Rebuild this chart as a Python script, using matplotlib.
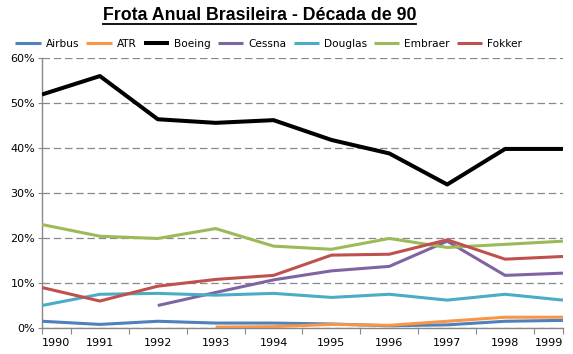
import matplotlib
matplotlib.use("Agg")
import matplotlib.pyplot as plt
from matplotlib.lines import Line2D
from matplotlib.ticker import FixedLocator, PercentFormatter

anos = ['1990', '1991', '1992', '1993', '1994', '1995', '1996', '1997', '1998', '1999']

# participacao de cada fabricante na frota (%), None = sem dado
airbus = [1.5, 0.8, 1.5, 1.1, 1.1, 0.9, 0.5, 0.7, 1.5, 1.7]
atr = [None, None, None, 0.2, 0.3, 0.8, 0.6, 1.5, 2.4, 2.4]
boeing = [51.9, 56.0, 46.4, 45.6, 46.2, 41.8, 38.8, 31.9, 39.8, 39.8]
cessna = [None, None, 5.0, 7.9, 10.7, 12.7, 13.7, 19.3, 11.7, 12.2]
douglas = [5.0, 7.5, 7.7, 7.3, 7.7, 6.8, 7.5, 6.2, 7.5, 6.2]
embraer = [23.0, 20.4, 19.9, 22.1, 18.2, 17.5, 19.9, 17.9, 18.6, 19.3]
fokker = [9.0, 6.0, 9.3, 10.8, 11.7, 16.2, 16.4, 19.6, 15.3, 15.9]

series = [
    ('Airbus', airbus, '#4F81BD'),
    ('ATR', atr, '#F79646'),
    ('Boeing', boeing, '#000000'),
    ('Cessna', cessna, '#8064A2'),
    ('Douglas', douglas, '#4BACC6'),
    ('Embraer', embraer, '#9BBB59'),
    ('Fokker', fokker, '#C0504D'),
]

plt.rcParams['font.family'] = ['DejaVu Sans']

fig = plt.figure(figsize=(5.73, 3.54), dpi=100)
ax = fig.add_axes([0.0733, 0.0734, 0.9092, 0.7626])

x = list(range(len(anos)))
for nome, valores, cor in series:
    ys = [float('nan') if v is None else v for v in valores]
    lw = 2.9 if nome == 'Boeing' else 2.2
    ax.plot(x, ys, color=cor, lw=lw, label=nome, solid_capstyle='butt', zorder=3)

ax.set_xlim(0, len(anos) - 1)
ax.set_ylim(0, 60)
ax.yaxis.set_major_locator(FixedLocator([0, 10, 20, 30, 40, 50, 60]))
ax.yaxis.set_major_formatter(PercentFormatter(decimals=0))
ax.grid(axis='y', color='#888888', linestyle=(0, (6, 3)), lw=0.9)
ax.set_axisbelow(True)

for s in ['top', 'right']:
    ax.spines[s].set_visible(False)
for s in ['left', 'bottom']:
    ax.spines[s].set_color('#888888')
    ax.spines[s].set_linewidth(1.0)

# marcas entre as categorias, rotulos nas categorias
fronteiras = [0] + [i + 0.5 for i in range(len(anos) - 1)] + [len(anos) - 1]
ax.set_xticks(fronteiras)
ax.set_xticklabels([])
ax.tick_params(axis='x', length=4, color='#888888')
ax.tick_params(axis='y', length=3, color='#888888', labelsize=8, pad=2)
for i, ano in enumerate(anos):
    ha = 'center'
    if i == 0:
        ha = 'left'
    elif i == len(anos) - 1:
        ha = 'right'
    ax.text(i, -2.3, ano, ha=ha, va='top', fontsize=8, transform=ax.transData)

fig.legend(loc='center', bbox_to_anchor=(0.469, 0.877), ncol=7, frameon=False,
           fontsize=7.6, handlelength=2.4, handletextpad=0.45, columnspacing=0.7)

titulo = fig.text(0.453, 0.955, 'Frota Anual Brasileira - Década de 90', ha='center', va='center',
                  fontsize=12.8, fontweight='bold', family='Liberation Sans')
fig.canvas.draw()
bb = titulo.get_window_extent().transformed(fig.transFigure.inverted())
fig.add_artist(Line2D([bb.x0, bb.x1], [bb.y0 + 0.002, bb.y0 + 0.002], color='black', lw=1.3,
                      transform=fig.transFigure))

fig.savefig('out.png', dpi=100)
